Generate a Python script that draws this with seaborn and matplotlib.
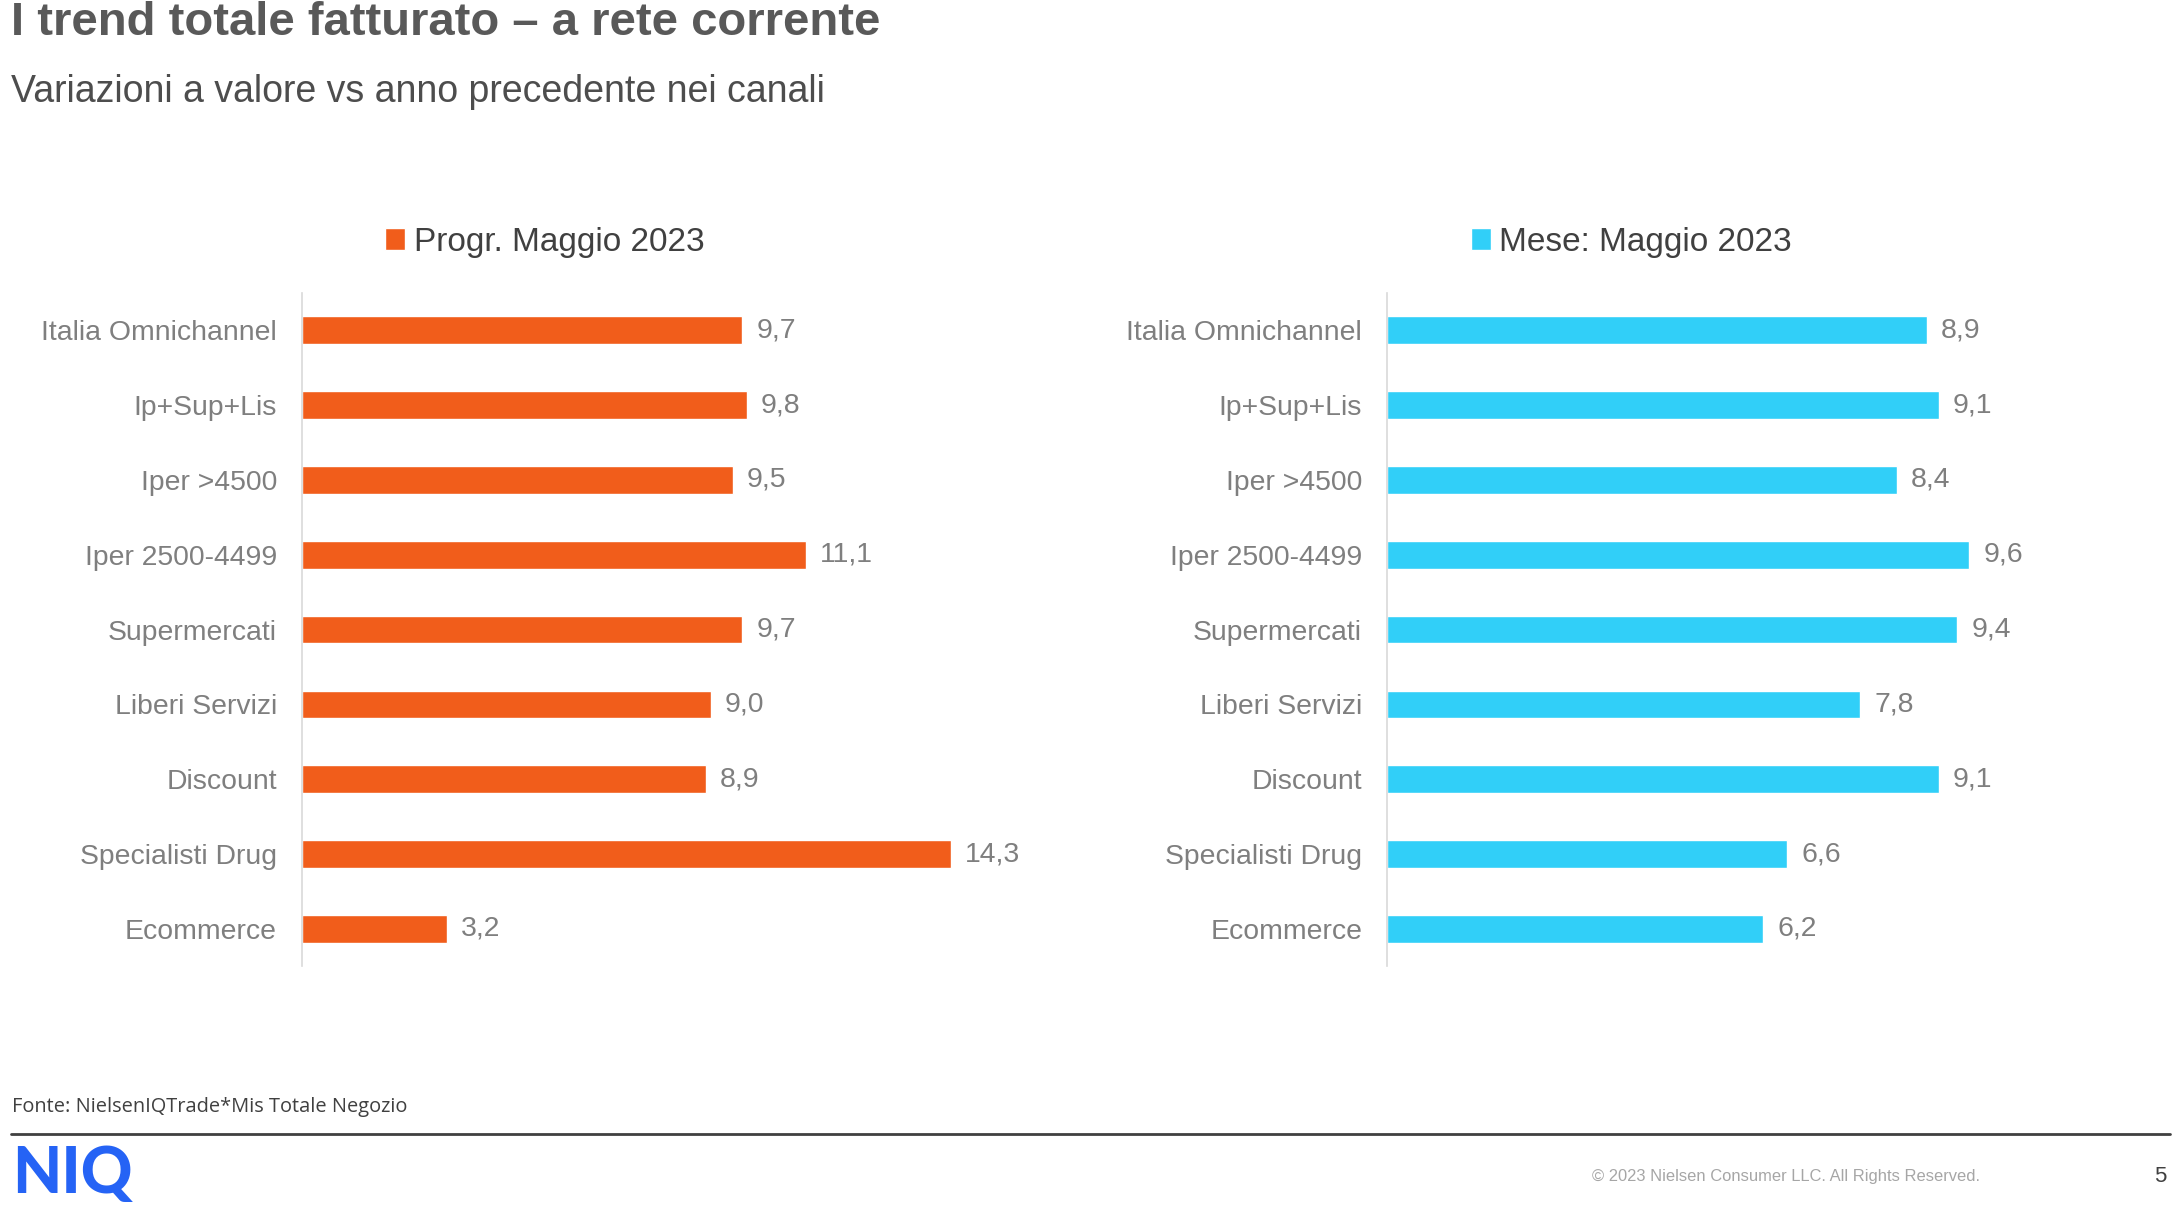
import pandas as pd
import seaborn as sns
import matplotlib.pyplot as plt

# Data
canali = ['Italia Omnichannel', 'Ip+Sup+Lis', 'Iper >4500', 'Iper 2500-4499',
          'Supermercati', 'Liberi Servizi', 'Discount', 'Specialisti Drug', 'Ecommerce']
progr_maggio = [9.7, 9.8, 9.5, 11.1, 9.7, 9.0, 8.9, 14.3, 3.2]
mese_maggio = [8.9, 9.1, 8.4, 9.6, 9.4, 7.8, 9.1, 6.6, 6.2]

serie_left = 'Progr. Maggio 2023'
serie_right = 'Mese: Maggio 2023'

ORANGE = '#F15D1B'
CYAN = '#31CFF8'
LABEL_GREY = '#7F7F7F'

sns.set_style('white')
plt.rcParams['font.family'] = ['Liberation Sans', 'DejaVu Sans']


def draw_panel(fig, rect, values, color, name, xmax, legend_x):
    ax = fig.add_axes(rect)
    df = pd.DataFrame({'canale': canali, 'valore': values})
    sns.barplot(data=df, x='valore', y='canale', color=color, saturation=1,
                width=0.37, orient='h', ax=ax, label=name)
    ax.set_xlim(0, xmax)
    ax.set_ylim(8.5, -0.5)
    ax.set_xlabel('')
    ax.set_ylabel('')
    ax.set_xticks([])
    ax.tick_params(axis='y', length=0, pad=18, labelsize=20.4, labelcolor=LABEL_GREY)
    for side in ['top', 'right', 'bottom']:
        ax.spines[side].set_visible(False)
    ax.spines['left'].set_color('#D9D9D9')
    ax.spines['left'].set_linewidth(1.2)

    labels = [f'{v:.1f}'.replace('.', ',') for v in values]
    ax.bar_label(ax.containers[0], labels=labels, padding=10,
                 fontsize=20.4, color=LABEL_GREY)

    ax.legend(loc='center', bbox_to_anchor=(legend_x, 0.799),
              bbox_transform=fig.transFigure, frameon=False,
              fontsize=24, labelcolor='#404040',
              handlelength=0.6, handleheight=0.6, handletextpad=0.25)
    return ax


fig = plt.figure(figsize=(21.79, 12.05), dpi=100)

draw_panel(fig, [0.1386, 0.198, 0.3333, 0.559], progr_maggio, ORANGE,
           serie_left, 16, 0.250)
draw_panel(fig, [0.6366, 0.198, 0.3340, 0.559], mese_maggio, CYAN,
           serie_right, 12, 0.7485)

# Titles
fig.text(0.005, 0.981, 'I trend totale fatturato \u2013 a rete corrente',
         fontsize=34, fontweight='bold', color='#595959', va='center', ha='left')
fig.text(0.005, 0.924, 'Variazioni a valore vs anno precedente nei canali',
         fontsize=27, color='#4D4D4D', va='center', ha='left')

# Footer
fig.text(0.0055, 0.0813, 'Fonte: NielsenIQTrade*Mis Totale Negozio',
         fontsize=14.4, color='#404040', va='center', ha='left',
         family=['Open Sans', 'DejaVu Sans'])
fig.add_artist(plt.Line2D([0.005, 0.996], [0.0589, 0.0589],
                          transform=fig.transFigure, color='#404040', linewidth=2))
fig.text(0.0055, 0.025, 'NIQ', fontsize=46, fontweight='black', color='#2563F5',
         va='center', ha='left', family=['Lato', 'DejaVu Sans'])
fig.text(0.7306, 0.0235, '\u00a9 2023 Nielsen Consumer LLC. All Rights Reserved.',
         fontsize=11.9, color='#A6A6A6', va='center', ha='left')
fig.text(0.9915, 0.0235, '5', fontsize=16, color='#404040', va='center', ha='center')

fig.savefig('out.png', dpi=100)
